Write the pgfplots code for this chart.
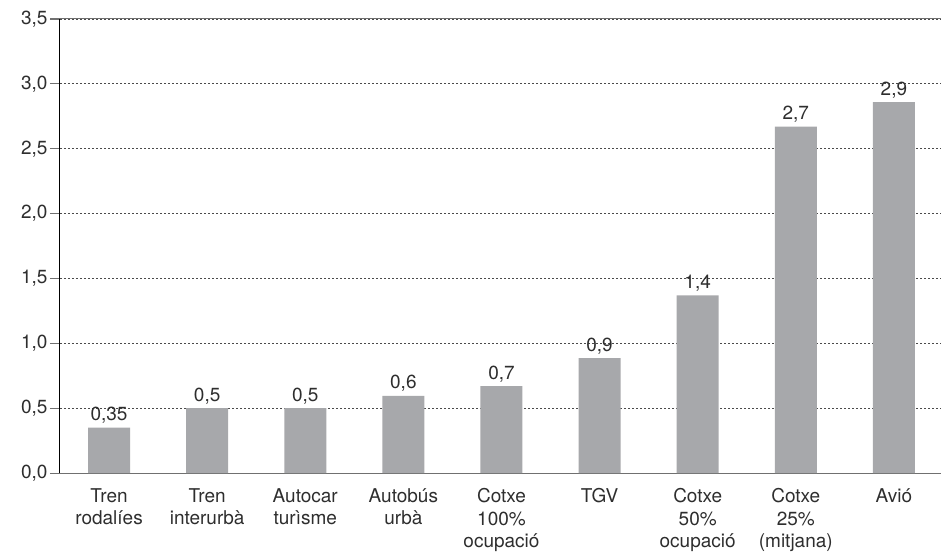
\documentclass[border=0pt]{standalone}
\usepackage{pgfplots}
\pgfplotsset{compat=1.18}
\usepackage{fontspec}
\setmainfont{TeX Gyre Heros}
\definecolor{bargray}{HTML}{A7A8AB}
\definecolor{txt}{HTML}{2E2E2E}
\definecolor{gridc}{HTML}{4A4A4A}
\definecolor{axgray}{HTML}{707070}
\newcommand{\lblfont}{\fontsize{19pt}{22.5pt}\selectfont}
\begin{document}
\begin{tikzpicture}
\begin{axis}[
  at={(0pt,0pt)}, anchor=south west,
  scale only axis, width=881pt, height=454pt,
  xmin=-0.5, xmax=8.48, ymin=0, ymax=3.5,
  axis lines*=left,
  x axis line style={axgray, line width=1pt},
  y axis line style={black, line width=1pt},
  ytick={0,0.5,1,1.5,2,2.5,3,3.5},
  yticklabels={{0,0},{0,5},{1,0},{1,5},{2,0},{2,5},{3,0},{3,5}},
  xtick={0,1,2,3,4,5,6,7,8},
  xticklabels={{Tren\\rodalíes},{Tren\\interurbà},{Autocar\\turìsme},{Autobús\\urbà},{Cotxe\\100\%\\ocupació},{TGV},{Cotxe\\50\%\\ocupació},{Cotxe\\25\%\\(mitjana)},{Avió}},
  xticklabel style={align=center, text=txt, font=\lblfont, anchor=north, yshift=-2pt},
  yticklabel style={text=txt, font=\lblfont, xshift=1pt},
  x tick style={draw=none},
  y tick style={axgray, line width=0.8pt},
  tick align=outside,
  major tick length=10pt,
  ymajorgrids,
  grid style={gridc, line width=0.8pt, dash pattern=on 2pt off 2pt},
  clip=false,
]
\addplot[ybar, fill=bargray, draw=none, bar width=42pt,
  nodes near coords, point meta=explicit symbolic,
  nodes near coords style={text=txt, font=\lblfont, anchor=south, inner sep=3pt, yshift=1pt}]
  table[meta=label] {
x y label
0 0.35 {0,35}
1 0.50 {0,5}
2 0.50 {0,5}
3 0.595 {0,6}
4 0.67 {0,7}
5 0.885 {0,9}
6 1.37 {1,4}
7 2.67 {2,7}
8 2.86 {2,9}
};
\draw[axgray, line width=1pt] (rel axis cs:0,1) -- (rel axis cs:1,1);
\draw[axgray, line width=1pt] (rel axis cs:0,1) -- ++(-10pt,0pt);
\end{axis}
\pgfresetboundingbox
\path (-60pt,-78pt) rectangle (881pt,473pt);
\end{tikzpicture}
\end{document}
